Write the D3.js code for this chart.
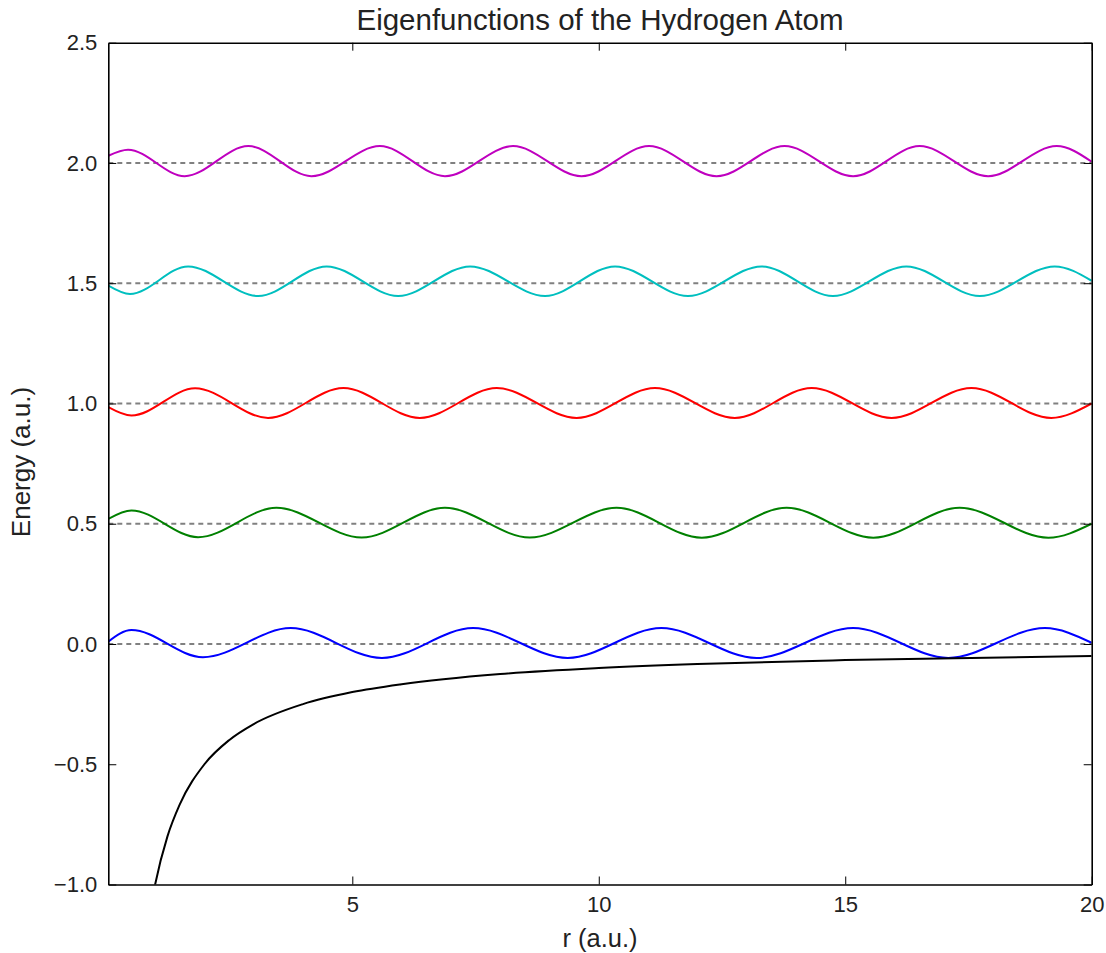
<!DOCTYPE html>
<html>
<head>
<meta charset="utf-8">
<script src="https://cdn.jsdelivr.net/npm/d3@7"></script>
<style>
	body { margin: 0; background: #fff; }
	text { font-family: "Liberation Sans", Arial, sans-serif; fill: #222; }
</style>
</head>
<body>
<svg id="vis" width="1106" height="953"></svg>
<script>
// energy levels (dashed lines) and the wave drawn on each of them
var levels = [0.0, 0.5, 1.0, 1.5, 2.0];

// [r, psi]: start, extrema, end
var wave_00 = [[0.05, 0.01], [0.52, 0.058], [1.97, -0.055], [3.75, 0.066], [5.6, -0.058], [7.45, 0.066],
	[9.37, -0.058], [11.27, 0.066], [13.2, -0.058], [15.16, 0.066], [17.09, -0.058], [19.05, 0.066], [20, 0.005]];
var wave_05 = [[0.05, 0.02], [0.52, 0.055], [1.87, -0.056], [3.46, 0.066], [5.19, -0.057], [6.88, 0.066],
	[8.6, -0.057], [10.36, 0.066], [12.09, -0.058], [13.81, 0.066], [15.57, -0.058], [17.32, 0.066], [19.12, -0.058], [20, 0.0]];
var wave_10 = [[0.05, -0.015], [0.52, -0.05], [1.81, 0.063], [3.29, -0.06], [4.82, 0.064], [6.37, -0.06], [7.93, 0.064],
	[9.55, -0.06], [11.14, 0.064], [12.76, -0.06], [14.32, 0.064], [15.94, -0.06], [17.56, 0.064], [19.18, -0.06], [20, 0.0]];
var wave_15 = [[0.05, -0.01], [0.49, -0.045], [1.67, 0.07], [3.09, -0.053], [4.48, 0.07], [5.93, -0.053], [7.39, 0.07],
	[8.91, -0.053], [10.33, 0.07], [11.81, -0.053], [13.3, 0.07], [14.75, -0.053], [16.24, 0.07], [17.73, -0.053], [19.25, 0.07], [20, 0.01]];
var wave_20 = [[0.05, 0.03], [0.45, 0.055], [1.6, -0.055], [2.89, 0.07], [4.17, -0.055], [5.56, 0.07], [6.88, -0.055],
	[8.26, 0.07], [9.65, -0.055], [11.02, 0.07], [12.39, -0.055], [13.77, 0.07], [15.16, -0.055], [16.51, 0.07], [17.9, -0.055], [19.29, 0.07], [20, 0.005]];
var waves = [wave_00, wave_05, wave_10, wave_15, wave_20];

// coulomb potential
var potential = [[0.9, -1.11], [1.0, -1.0], [1.25, -0.8], [1.5, -0.667], [2, -0.5], [2.5, -0.4], [3, -0.333], [4, -0.25],
	[5, -0.2], [6, -0.167], [8, -0.125], [10, -0.1], [12, -0.083], [15, -0.067], [20, -0.05]];

var xTicks = [5, 10, 15, 20];
var yTicks = [-1.0, -0.5, 0.0, 0.5, 1.0, 1.5, 2.0, 2.5];

var colors = ["#0000ff", "#008000", "#ff0000", "#00bfbf", "#bf00bf"];

var margin = {left: 108.3, top: 42.7, right: 14.3, bottom: 68.5};
var width = 1106 - margin.left - margin.right;
var height = 953 - margin.top - margin.bottom;

var svg = d3.select("#vis");
var g = svg.append("g").attr("transform", `translate(${margin.left},${margin.top})`);

var x = d3.scaleLinear().domain([0.05, 20]).range([0, width]);
var y = d3.scaleLinear().domain([-1.0, 2.5]).range([height, 0]);

g.append("clipPath").attr("id", "clip")
	.append("rect").attr("width", width).attr("height", height);

var plot = g.append("g").attr("clip-path", "url(#clip)");

// dashed energy levels
plot.selectAll("line.level")
	.data(levels)
	.enter()
	.append("line")
	.attr("class", "level")
	.attr("x1", x(0.05)).attr("x2", x(20))
	.attr("y1", d => y(d)).attr("y2", d => y(d))
	.style("stroke", "#808080")
	.style("stroke-width", 2)
	.style("stroke-dasharray", "5,4");

var line = d3.line().curve(d3.curveMonotoneX);

plot.selectAll("path.wave")
	.data(waves)
	.enter()
	.append("path")
	.attr("class", "wave")
	.attr("d", (d, i) => line(d.map(p => [x(p[0]), y(levels[i] + p[1])])))
	.style("fill", "none")
	.style("stroke", (d, i) => colors[i])
	.style("stroke-width", 2);

plot.append("path")
	.attr("d", line(potential.map(p => [x(p[0]), y(p[1])])))
	.style("fill", "none")
	.style("stroke", "#000")
	.style("stroke-width", 2);

// axes, ticks point inward like old matplotlib
var fmt = d3.format(".1f");
var axLeft = g.append("g").call(d3.axisLeft(y).tickValues(yTicks).tickFormat(fmt).tickSizeInner(-8).tickSizeOuter(0).tickPadding(11));
var axRight = g.append("g").attr("transform", `translate(${width},0)`)
	.call(d3.axisRight(y).tickValues(yTicks).tickFormat("").tickSizeInner(-8).tickSizeOuter(0));
var axBottom = g.append("g").attr("transform", `translate(0,${height})`)
	.call(d3.axisBottom(x).tickValues(xTicks).tickFormat(d3.format("d")).tickSizeInner(-8).tickSizeOuter(0).tickPadding(12));
var axTop = g.append("g")
	.call(d3.axisTop(x).tickValues(xTicks).tickFormat("").tickSizeInner(-8).tickSizeOuter(0));

[axLeft, axRight, axBottom, axTop].forEach(a => {
	a.select(".domain").style("stroke", "#000").style("stroke-width", 1.6);
	a.selectAll(".tick line").style("stroke", "#000");
	a.selectAll("text").style("font-size", "22px").style("fill", "#222")
		.style("font-family", '"Liberation Sans", Arial, sans-serif');
});

svg.append("text")
	.attr("x", margin.left + width / 2)
	.attr("y", 30)
	.attr("text-anchor", "middle")
	.style("font-size", "29.5px")
	.text("Eigenfunctions of the Hydrogen Atom");

svg.append("text")
	.attr("x", margin.left + width / 2)
	.attr("y", 947)
	.attr("text-anchor", "middle")
	.style("font-size", "25.5px")
	.text("r (a.u.)");

svg.append("text")
	.attr("transform", "translate(30,462) rotate(-90)")
	.attr("text-anchor", "middle")
	.style("font-size", "26px")
	.text("Energy (a.u.)");
</script>
</body>
</html>
